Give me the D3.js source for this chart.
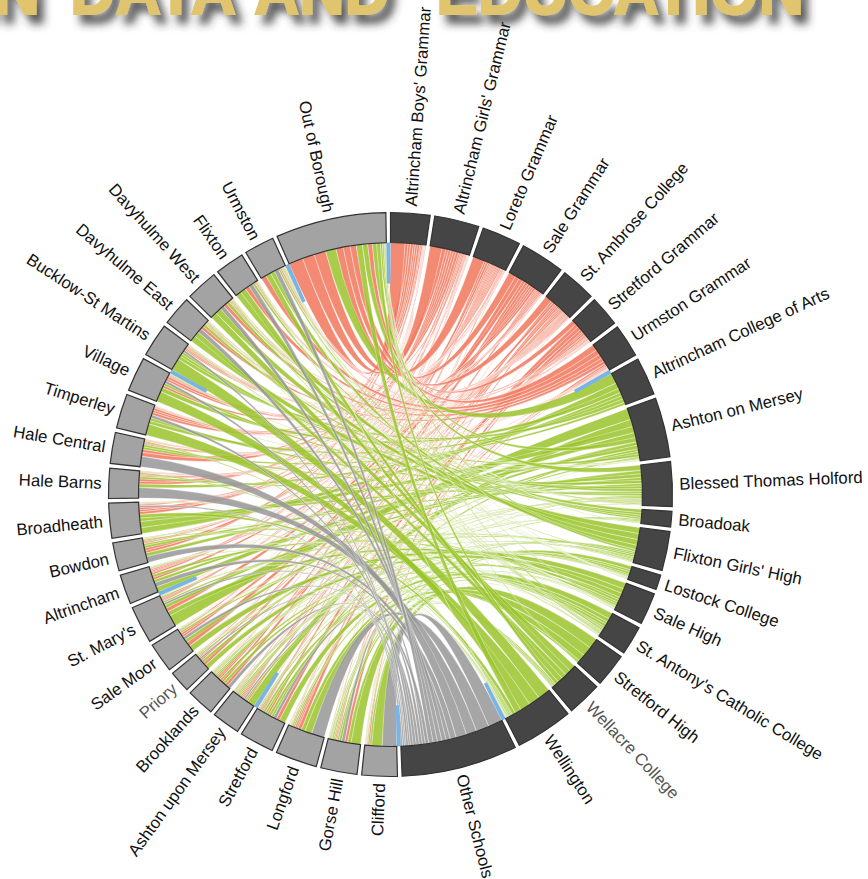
<!DOCTYPE html>
<html>
<head>
<meta charset="utf-8">
<script src="https://d3js.org/d3.v7.min.js"></script>
<style>
  html, body { margin: 0; padding: 0; background: #fff; overflow: hidden; }
</style>
</head>
<body>
<div id="graph-1"></div>
<script>
// secondary schools, clockwise from the top
const secondaries = ["Altrincham Boys' Grammar", "Altrincham Girls' Grammar", "Loreto Grammar", "Sale Grammar",
    "St. Ambrose College", "Stretford Grammar", "Urmston Grammar", "Altrincham College of Arts", "Ashton on Mersey",
    "Blessed Thomas Holford", "Broadoak", "Flixton Girls' High", "Lostock College", "Sale High",
    "St. Antony's Catholic College", "Stretford High", "Wellacre College", "Wellington", "Other Schools"];

// primary areas, carrying on clockwise
const primaries = ["Clifford", "Gorse Hill", "Longford", "Stretford", "Ashton upon Mersey", "Brooklands", "Priory",
    "Sale Moor", "St. Mary's", "Altrincham", "Bowdon", "Broadheath", "Hale Barns", "Hale Central", "Timperley",
    "Village", "Bucklow-St Martins", "Davyhulme East", "Davyhulme West", "Flixton", "Urmston", "Out of Borough"];

// one row per primary, one column per secondary (estimated from band widths)
const flows = [
    [0,0,1,0,1,4,1, 0,0,0,0,0,5,1,2,24,1,0,33],
    [1,1,2,0,3,7,3, 0,0,2,3,4,8,2,6,22,3,1,7],
    [1,1,2,1,4,8,4, 0,1,1,0,0,4,1,9,16,3,0,30],
    [1,1,3,3,5,8,2, 0,6,2,0,3,5,6,14,5,0,0,7],
    [1,2,3,3,4,3,2, 0,17,3,3,3,2,0,4,0,2,2,4],
    [1,2,5,7,4,4,1, 0,4,3,2,0,2,5,6,0,2,1,8],
    [1,2,4,7,3,0,0, 0,6,2,0,3,0,11,0,0,0,1,4],
    [1,3,5,10,5,1,0, 0,8,2,0,4,0,14,1,0,0,0,7],
    [1,3,3,9,3,0,1, 0,26,8,0,4,0,10,3,0,0,1,5],
    [3,4,3,6,3,2,0, 0,12,7,1,1,0,6,1,0,0,2,10],
    [6,6,3,3,2,1,0, 0,8,6,0,1,0,4,1,0,0,3,14],
    [5,6,3,5,2,1,0, 14,14,8,0,0,0,1,1,0,0,8,4],
    [6,6,3,3,2,1,1, 8,0,5,0,0,0,0,0,0,0,3,24],
    [7,9,3,3,2,1,1, 6,0,5,0,0,0,0,0,0,0,3,24],
    [5,6,2,5,2,0,1, 8,1,7,0,0,0,1,0,0,0,26,7],
    [5,6,3,5,2,1,0, 10,2,6,0,0,0,1,0,0,0,24,6],
    [3,3,2,2,1,1,0, 8,6,6,0,2,0,1,1,0,0,28,5],
    [0,1,0,1,2,2,7, 0,1,2,6,14,1,0,2,0,12,0,10],
    [0,1,1,0,2,2,8, 0,1,2,7,14,1,0,2,0,15,0,10],
    [0,0,1,0,2,2,10, 0,0,1,5,13,1,0,2,0,13,0,10],
    [0,1,1,1,2,3,12, 0,0,2,4,10,1,0,2,0,12,1,10],
    [33,28,27,17,16,11,14, 24,10,12,1,5,1,2,3,2,8,14,0]
];

// groups whose leading gap holds a short blue stub
const stubGroups = ["Altrincham Boys' Grammar", "Altrincham College of Arts", "Other Schools", "Clifford",
    "Ashton upon Mersey", "Altrincham", "Bucklow-St Martins", "Out of Borough"];

// lighter labels
const mutedLabels = ["Priory", "Wellacre College"];

const titleWords = ["IN", "DATA", "AND", "EDUCATION"];

drawChord();

function drawChord() {
    const width = 868, height = 879;
    const cx = 390.5, cy = 494.5;
    const outerRadius = 282, innerRadius = 252, labelRadius = 289;
    const padAngle = 0.0165;

    const svg = d3.select("#graph-1").append("svg")
        .attr("width", width)
        .attr("height", height)
        .style("display", "block");

    const names = secondaries.concat(primaries);
    const n = names.length;
    const matrix = d3.range(n).map(() => new Array(n).fill(0));
    flows.forEach((row, p) => row.forEach((v, s) => {
        matrix[secondaries.length + p][s] = v;
        matrix[s][secondaries.length + p] = v;
    }));

    const chords = d3.chord()
        .padAngle(padAngle)
        .sortSubgroups(d3.descending)(matrix);

    const g = svg.append("g")
        .attr("transform", `translate(${cx},${cy})`);

    addRibbons(g, chords, innerRadius);
    addStubs(g, chords, names, innerRadius, padAngle);
    addGroups(g, chords, innerRadius, outerRadius);
    addLabels(g, chords, names, labelRadius);
    addTitle(svg);
}

function ribbonColor(index) {
    if (index < 7) return "#f1755a";
    if (index < 18) return "#9ac42b";
    return "#969696";
}

function addRibbons(g, chords, innerRadius) {
    const ribbon = d3.ribbon().radius(innerRadius);

    g.append("g")
        .selectAll("path")
        .data(chords)
        .join("path")
        .attr("d", ribbon)
        .attr("fill", d => ribbonColor(Math.min(d.source.index, d.target.index)))
        .attr("fill-opacity", 0.85)
        .attr("stroke", "#fff")
        .attr("stroke-width", 0.35);
}

function addStubs(g, chords, names, innerRadius, padAngle) {
    const arc = d3.arc()
        .innerRadius(innerRadius - 41)
        .outerRadius(innerRadius);

    g.append("g")
        .selectAll("path")
        .data(chords.groups.filter(d => stubGroups.includes(names[d.index])))
        .join("path")
        .attr("d", d => arc({ startAngle: d.startAngle - padAngle, endAngle: d.startAngle }))
        .attr("fill", "#78b4e6");
}

function addGroups(g, chords, innerRadius, outerRadius) {
    const arc = d3.arc()
        .innerRadius(innerRadius)
        .outerRadius(outerRadius);

    g.append("g")
        .selectAll("path")
        .data(chords.groups)
        .join("path")
        .attr("d", arc)
        .attr("fill", d => d.index < secondaries.length ? "#454545" : "#a3a3a3")
        .attr("stroke", "#333")
        .attr("stroke-width", 1.2);
}

function addLabels(g, chords, names, labelRadius) {
    g.append("g")
        .selectAll("text")
        .data(chords.groups)
        .join("text")
        .each(d => { d.mid = (d.startAngle + d.endAngle) / 2; })
        .attr("transform", d => `rotate(${d.mid * 180 / Math.PI - 90}) translate(${labelRadius})` +
            (d.mid > Math.PI ? " rotate(180)" : ""))
        .attr("text-anchor", d => d.mid > Math.PI ? "end" : "start")
        .attr("dy", "0.35em")
        .attr("font-family", "'Liberation Sans', Arial, sans-serif")
        .attr("font-size", "16.8px")
        .attr("fill", d => mutedLabels.includes(names[d.index]) ? "#555" : "#111")
        .text(d => names[d.index]);
}

function addTitle(svg) {
    const wordX = [-24, 70, 254, 436];
    const wordW = [64, 166, 136, 368];

    const shadow = svg.append("defs").append("filter")
        .attr("id", "title-shadow")
        .attr("x", "-10%").attr("y", "-20%")
        .attr("width", "120%").attr("height", "170%");
    shadow.append("feDropShadow")
        .attr("dx", 7).attr("dy", 9)
        .attr("stdDeviation", 4.5)
        .attr("flood-color", "#333")
        .attr("flood-opacity", 0.8);

    svg.append("g")
        .attr("filter", "url(#title-shadow)")
        .selectAll("text")
        .data(titleWords)
        .join("text")
        .attr("x", (d, i) => wordX[i])
        .attr("y", 13.5)
        .attr("textLength", (d, i) => wordW[i])
        .attr("lengthAdjust", "spacingAndGlyphs")
        .attr("font-family", "'Liberation Sans Narrow', 'Liberation Sans', sans-serif")
        .attr("font-weight", "bold")
        .attr("font-size", "68px")
        .attr("fill", "#e0c56e")
        .attr("stroke", "#e0c56e")
        .attr("stroke-width", 2)
        .text(d => d);
}
</script>
</body>
</html>
